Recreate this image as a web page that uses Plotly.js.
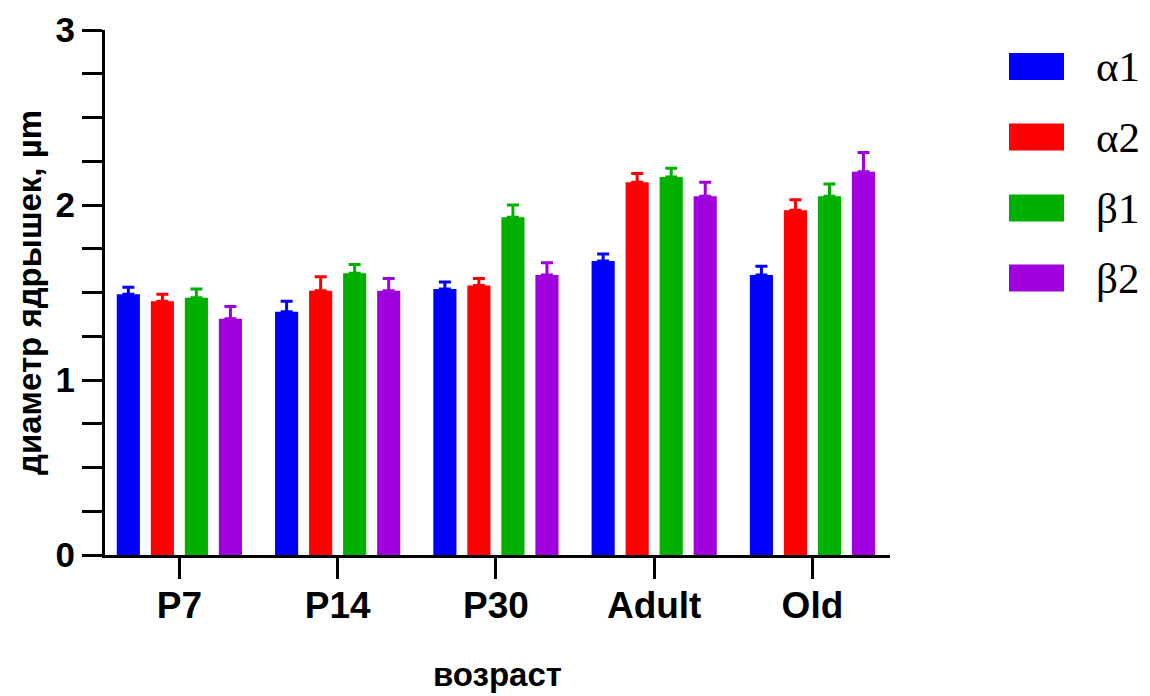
<!DOCTYPE html>
<html>
<head>
<meta charset="utf-8">
<script src="https://cdn.plot.ly/plotly-3.0.1.min.js"></script>
<style>html,body{margin:0;padding:0;background:#fff;}</style>
</head>
<body>
<div id="chart" style="width:1150px;height:696px;"></div>
<script>
const categories = ['P7', 'P14', 'P30', 'Adult', 'Old'];
const seriesNames = ['α1', 'α2', 'β1', 'β2'];
const alpha1 = [1.49, 1.39, 1.52, 1.68, 1.60];
const alpha2 = [1.45, 1.51, 1.54, 2.13, 1.97];
const beta1  = [1.47, 1.61, 1.93, 2.16, 2.05];
const beta2  = [1.35, 1.51, 1.60, 2.05, 2.19];
const alpha1Err = [0.04, 0.06, 0.04, 0.04, 0.05];
const alpha2Err = [0.04, 0.08, 0.04, 0.05, 0.06];
const beta1Err  = [0.05, 0.05, 0.07, 0.05, 0.07];
const beta2Err  = [0.07, 0.07, 0.07, 0.08, 0.11];
const colors = ['#0000FF', '#FF0000', '#00B000', '#A000DC'];

const values = [alpha1, alpha2, beta1, beta2];
const errs = [alpha1Err, alpha2Err, beta1Err, beta2Err];

const traces = values.map((v, i) => ({
  type: 'bar',
  name: seriesNames[i],
  x: categories,
  y: v,
  marker: {color: colors[i]},
  error_y: {
    type: 'data', symmetric: false,
    array: errs[i], arrayminus: errs[i].map(() => 0),
    color: colors[i], thickness: 3, width: 6
  },
  showlegend: false
}));

const W = 1150, H = 696;
const M = {l: 105, r: 260, t: 30, b: 141};
const pw = W - M.l - M.r, ph = H - M.t - M.b;
const px2x = p => (p - M.l) / pw;
const py2y = p => (H - M.b - p) / ph;

const legendY = [66.5, 137, 208, 278];
const shapes = [];
const annotations = [];
seriesNames.forEach((n, i) => {
  shapes.push({
    type: 'rect', xref: 'paper', yref: 'paper',
    x0: px2x(1009), x1: px2x(1064),
    y0: py2y(legendY[i] + 13.5), y1: py2y(legendY[i] - 13.5),
    fillcolor: colors[i], line: {width: 0}
  });
  annotations.push({
    xref: 'paper', yref: 'paper',
    x: px2x(1094), y: py2y(legendY[i]),
    xanchor: 'left', yanchor: 'middle',
    text: n, showarrow: false,
    font: {family: 'Liberation Serif, Times New Roman, serif', size: 43, color: '#000'}
  });
});

const sans = 'Liberation Sans, Arial, sans-serif';

const layout = {
  width: W, height: H,
  margin: {l: M.l, r: M.r, t: M.t, b: M.b, pad: 0},
  paper_bgcolor: '#fff', plot_bgcolor: '#fff',
  barmode: 'group', bargap: 0.14, bargroupgap: 0.32,
  xaxis: {
    type: 'category', range: [-0.47, 4.49],
    showline: true, linecolor: '#000', linewidth: 3,
    ticks: 'outside', ticklen: 21, tickwidth: 3, tickcolor: '#000',
    ticklabelstandoff: -5,
    tickfont: {family: sans, size: 37, color: '#000', weight: 'bold'},
    showgrid: false, zeroline: false,
    title: {text: 'возраст', standoff: 38,
      font: {family: sans, size: 33, color: '#000', weight: 'bold'}}
  },
  yaxis: {
    range: [0, 3], dtick: 1, tick0: 0,
    showline: true, linecolor: '#000', linewidth: 3,
    ticks: 'outside', ticklen: 20, tickwidth: 3, tickcolor: '#000',
    minor: {dtick: 0.25, ticks: 'outside', ticklen: 20, tickwidth: 3, tickcolor: '#000', showgrid: false},
    tickfont: {family: sans, size: 35, color: '#000', weight: 'bold'},
    showgrid: false, zeroline: false,
    title: {text: 'диаметр ядрышек, µm', standoff: 4,
      font: {family: sans, size: 33, color: '#000', weight: 'bold'}}
  },
  shapes: shapes,
  annotations: annotations
};

Plotly.newPlot('chart', traces, layout, {displayModeBar: false, staticPlot: true});
</script>
</body>
</html>
